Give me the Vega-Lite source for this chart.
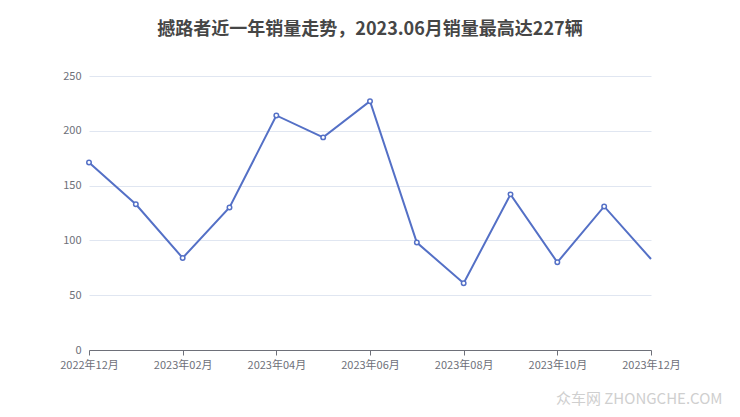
{
  "$schema": "https://vega.github.io/schema/vega-lite/v6.json",
  "width": 562,
  "height": 274,
  "autosize": {"type": "none"},
  "padding": {"left": 89, "top": 76, "right": 89, "bottom": 67},
  "background": "#ffffff",
  "title": {
    "text": "撼路者近一年销量走势，2023.06月销量最高达227辆",
    "font": "Noto Sans CJK SC",
    "fontSize": 18,
    "fontWeight": "bold",
    "color": "#464646",
    "anchor": "middle",
    "offset": 31
  },
  "config": {
    "view": {"stroke": null},
    "font": "Noto Sans CJK SC"
  },
  "data": {
    "values": [
      {"month": "2022年12月", "sales": 171},
      {"month": "2023年01月", "sales": 133},
      {"month": "2023年02月", "sales": 84},
      {"month": "2023年03月", "sales": 130},
      {"month": "2023年04月", "sales": 214},
      {"month": "2023年05月", "sales": 194},
      {"month": "2023年06月", "sales": 227},
      {"month": "2023年07月", "sales": 98},
      {"month": "2023年08月", "sales": 61},
      {"month": "2023年09月", "sales": 142},
      {"month": "2023年10月", "sales": 80},
      {"month": "2023年11月", "sales": 131},
      {"month": "2023年12月", "sales": 83}
    ]
  },
  "encoding": {
    "x": {
      "field": "month",
      "type": "ordinal",
      "sort": null,
      "scale": {"type": "point", "padding": 0},
      "axis": {
        "values": ["2022年12月", "2023年02月", "2023年04月", "2023年06月", "2023年08月", "2023年10月", "2023年12月"],
        "labelAngle": 0,
        "labelFontSize": 11,
        "labelColor": "#6e7079",
        "labelPadding": 4,
        "domainColor": "#6e7079",
        "tickColor": "#6e7079",
        "tickSize": 5,
        "grid": false,
        "title": "众车网  ZHONGCHE.COM",
        "titleColor": "#cfcfcf",
        "titleFontSize": 15,
        "titleFontWeight": "normal",
        "titleAlign": "right",
        "titleAnchor": "end",
        "titleBaseline": "middle",
        "titleX": 633,
        "titleY": 48
      }
    },
    "y": {
      "field": "sales",
      "type": "quantitative",
      "scale": {"domain": [0, 250]},
      "axis": {
        "values": [0, 50, 100, 150, 200, 250],
        "labelFontSize": 11,
        "labelColor": "#6e7079",
        "labelPadding": 8,
        "domain": false,
        "ticks": false,
        "gridColor": "#e0e6f1",
        "title": null
      }
    }
  },
  "layer": [
    {
      "mark": {"type": "line", "color": "#5470c6", "strokeWidth": 2}
    },
    {
      "transform": [{"filter": "datum.month != '2023年12月'"}],
      "mark": {"type": "point", "shape": "circle", "filled": true, "fill": "#ffffff", "stroke": "#5470c6", "strokeWidth": 1.5, "size": 20, "opacity": 1}
    }
  ]
}
